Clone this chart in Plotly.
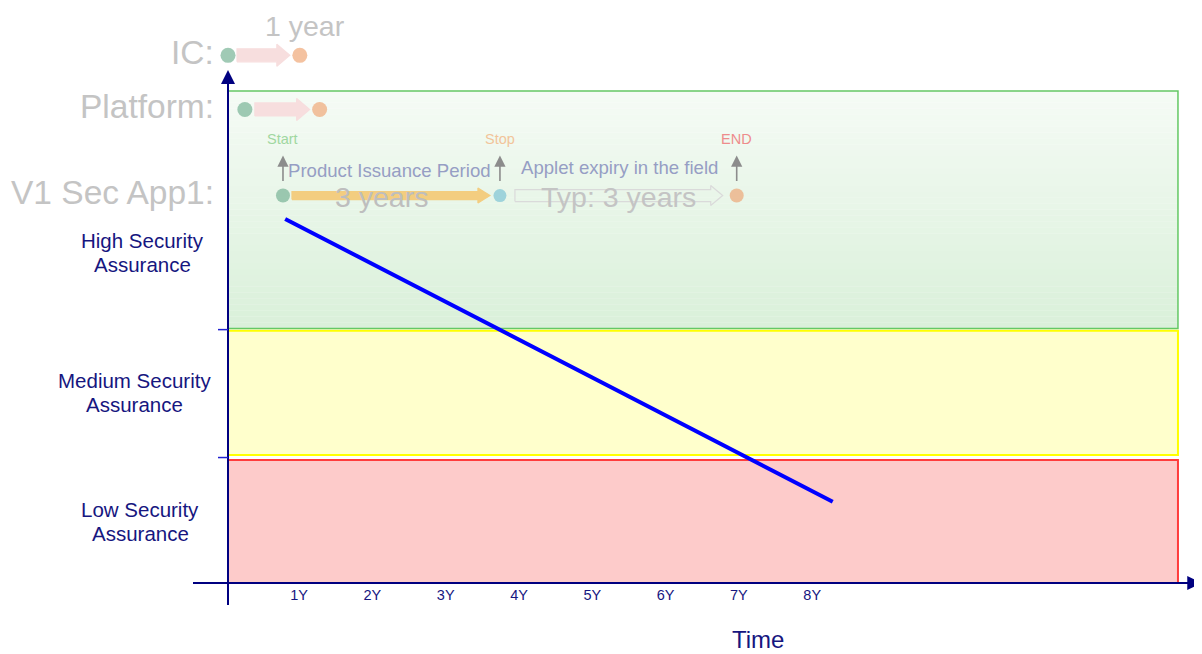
import plotly.graph_objects as go

# ---------------- data ----------------
years = [1, 2, 3, 4, 5, 6, 7, 8]
year_labels = ["1Y", "2Y", "3Y", "4Y", "5Y", "6Y", "7Y", "8Y"]

band_line1 = ["Low Security", "Medium Security", "High Security"]
band_line2 = ["Assurance", "Assurance", "Assurance"]
band_low = [0.0, 1.04, 2.07]
band_high = [1.0, 2.05, 4.0]
band_label_y = [0.5, 1.55, 2.69]
band_label_x = [-1.2, -1.28, -1.17]
band_fill = ["rgb(253,203,202)", "rgb(255,255,204)", None]
band_line = ["rgb(255,60,60)", "rgb(255,255,0)", "rgb(100,200,100)"]
band_right = 12.96

# security assurance decline of the applet
trend_x = [0.78, 8.25]
trend_y = [2.96, 0.66]

# lifecycle diagram (faded)
row_names = ["IC:", "Platform:", "V1 Sec App1:"]
row_y = [4.29, 3.85, 3.15]
ic_start, ic_end = 0.0, 0.98
plat_start, plat_end = 0.23, 1.25
app_start, app_stop, app_end = 0.75, 3.71, 6.94
milestone_names = ["Start", "Stop", "END"]
milestone_x = [app_start, app_stop, app_end]
milestone_colors = ["rgb(160,215,160)", "rgb(242,196,154)", "rgb(238,140,140)"]

# ---------------- scale (px per unit); page has an 8px body margin ----------------
PX_X = 73.3
PX_Y = 123.0
W, H = 1194, 646
OX, OY = 220, 575
X_RANGE = [-OX / PX_X, (W - OX) / PX_X]
Y_RANGE = [-(H - OY) / PX_Y, OY / PX_Y]

NAVY = "#000080"
TXT = "#16167f"
FONT = "Liberation Sans, Arial, sans-serif"


def dx(px):
    return px / PX_X


def dy(px):
    return px / PX_Y


def block_arrow(x0, x1, yc, body, head_h, head_len):
    xh = x1 - dx(head_len)
    b = dy(body) / 2
    h = dy(head_h) / 2
    xs = [x0, xh, xh, x1, xh, xh, x0, x0]
    ys = [yc - b, yc - b, yc - h, yc, yc + h, yc + b, yc + b, yc - b]
    return xs, ys


fig = go.Figure()
shapes = []

# green band gradient
n_strip = 40
lo, hi = band_low[2], band_high[2]
for i in range(n_strip):
    t = i / (n_strip - 1)
    r = round(245 + (218 - 245) * (1 - t))
    g = round(251 + (240 - 251) * (1 - t))
    b = round(245 + (218 - 245) * (1 - t))
    y0 = lo + (hi - lo) * i / n_strip
    y1 = lo + (hi - lo) * (i + 1) / n_strip
    shapes.append(dict(type="rect", xref="x", yref="y", x0=0, x1=band_right, y0=y0, y1=y1 + 0.002,
                       fillcolor=f"rgb({r},{g},{b})", line=dict(width=0), layer="below"))

for i in range(3):
    shapes.append(dict(type="rect", xref="x", yref="y", x0=0, x1=band_right,
                       y0=band_low[i], y1=band_high[i],
                       fillcolor=band_fill[i] if band_fill[i] else "rgba(0,0,0,0)",
                       line=dict(color=band_line[i], width=2 if i < 2 else 1.5), layer="below"))

# axes
shapes.append(dict(type="line", xref="x", yref="y", x0=dx(-35), x1=X_RANGE[1], y0=0, y1=0,
                   line=dict(color=NAVY, width=2)))
shapes.append(dict(type="line", xref="x", yref="y", x0=0, x1=0, y0=dy(-22), y1=dy(505),
                   line=dict(color=NAVY, width=2)))
for yb in [band_low[1] - 0.02, band_low[2] - 0.01]:
    shapes.append(dict(type="line", xref="x", yref="y", x0=dx(-10), x1=0, y0=yb, y1=yb,
                       line=dict(color="#2020d0", width=1.5)))

# lifecycle arrows
arrow_specs = [
    (ic_start + dx(9), ic_end - dx(10), row_y[0], 13, 22, 13, "rgb(247,222,222)", "rgb(247,222,222)"),
    (plat_start + dx(10), plat_end - dx(10), row_y[1], 13, 22, 13, "rgb(247,222,222)", "rgb(247,222,222)"),
    (app_start + dx(9), app_stop - dx(10), row_y[2], 8, 15, 12, "rgb(243,205,128)", "rgb(243,205,128)"),
    (app_stop + dx(15), app_end - dx(14), row_y[2], 12, 20, 12, "rgba(255,255,255,0)", "rgb(218,218,218)"),
]
for x0, x1, yc, body, hh, hl, fc, lc in arrow_specs:
    xs, ys = block_arrow(x0, x1, yc, body, hh, hl)
    fig.add_trace(go.Scatter(x=xs, y=ys, mode="lines", fill="toself", fillcolor=fc,
                             line=dict(color=lc, width=1.2), hoverinfo="skip", showlegend=False))

# dots
dot_x = [ic_start, ic_end, plat_start, plat_end, app_start, app_stop, app_end]
dot_y = [row_y[0], row_y[0], row_y[1], row_y[1], row_y[2], row_y[2], row_y[2]]
dot_c = ["rgb(120,180,150)", "rgb(240,168,120)", "rgb(120,180,150)", "rgb(240,168,120)",
         "rgb(120,180,150)", "rgb(125,196,212)", "rgb(236,168,120)"]
dot_s = [15, 15, 15, 15, 14, 13, 14]
fig.add_trace(go.Scatter(x=dot_x, y=dot_y, mode="markers",
                         marker=dict(size=dot_s, color=dot_c, line=dict(width=0)),
                         hoverinfo="skip", showlegend=False))

# trend line
fig.add_trace(go.Scatter(x=trend_x, y=trend_y, mode="lines",
                         line=dict(color="#0000ff", width=4), showlegend=False))

# x tick labels
fig.add_trace(go.Scatter(x=[v - 0.03 for v in years], y=[dy(-13)] * len(years), mode="text",
                         text=year_labels,
                         textfont=dict(family=FONT, size=14.5, color=TXT), hoverinfo="skip",
                         showlegend=False))

annotations = []
# band labels (two lines each, 24px apart)
for i in range(3):
    for txt, off in ((band_line1[i], 12), (band_line2[i], -12)):
        annotations.append(dict(x=band_label_x[i], y=band_label_y[i] + dy(off), xref="x", yref="y",
                                text=txt, showarrow=False,
                                font=dict(family=FONT, size=20.5, color=TXT), align="center"))
annotations.append(dict(x=7.23, y=dy(-56), xref="x", yref="y", text="Time", showarrow=False,
                        font=dict(family=FONT, size=24, color=TXT)))

# row labels
for name, yv in zip(row_names, row_y):
    annotations.append(dict(x=dx(-12), y=yv + dy(3), xref="x", yref="y", text=name, showarrow=False,
                            xanchor="right", font=dict(family=FONT, size=33.5, color="rgb(196,196,196)")))
annotations.append(dict(x=1.05, y=dy(557), xref="x", yref="y", text="1 year", showarrow=False,
                        font=dict(family=FONT, size=28.5, color="rgb(196,196,196)")))
annotations.append(dict(x=(app_start + app_stop) / 2 - 0.14, y=row_y[2] - dy(1), xref="x", yref="y",
                        text="3 years", showarrow=False,
                        font=dict(family=FONT, size=28.5, color="rgb(190,190,190)")))
annotations.append(dict(x=(app_stop + app_end) / 2, y=row_y[2] - dy(1), xref="x", yref="y",
                        text="Typ: 3 years", showarrow=False,
                        font=dict(family=FONT, size=28.5, color="rgb(196,196,196)")))
annotations.append(dict(x=(app_start + app_stop) / 2 - 0.03, y=row_y[2] + dy(25), xref="x", yref="y",
                        text="Product Issuance Period", showarrow=False,
                        font=dict(family=FONT, size=18.6, color="rgb(150,158,196)")))
annotations.append(dict(x=(app_stop + app_end) / 2 + 0.02, y=row_y[2] + dy(28), xref="x", yref="y",
                        text="Applet expiry in the field", showarrow=False,
                        font=dict(family=FONT, size=18.6, color="rgb(150,158,196)")))
for name, xv, col in zip(milestone_names, milestone_x, milestone_colors):
    annotations.append(dict(x=xv, y=row_y[2] + dy(57), xref="x", yref="y", text=name, showarrow=False,
                            font=dict(family=FONT, size=14.5, color=col)))
    annotations.append(dict(x=xv, y=row_y[2] + dy(40), xref="x", yref="y", ax=xv, ay=row_y[2] + dy(13),
                            axref="x", ayref="y", text="", showarrow=True, arrowhead=2, arrowsize=1.4,
                            arrowwidth=1.6, arrowcolor="rgb(140,140,140)"))

# axis arrows
annotations.append(dict(x=0, y=dy(513), xref="x", yref="y", ax=0, ay=dy(480), axref="x", ayref="y",
                        text="", showarrow=True, arrowhead=2, arrowsize=1.4, arrowwidth=2, arrowcolor=NAVY))
annotations.append(dict(x=X_RANGE[1] - 0.01, y=0, xref="x", yref="y", ax=X_RANGE[1] - dx(30), ay=0,
                        axref="x", ayref="y", text="", showarrow=True, arrowhead=2, arrowsize=1.4,
                        arrowwidth=2, arrowcolor=NAVY))

fig.update_layout(
    width=W, height=H,
    margin=dict(l=0, r=0, t=0, b=0),
    paper_bgcolor="white", plot_bgcolor="white",
    xaxis=dict(range=X_RANGE, visible=False, fixedrange=True),
    yaxis=dict(range=Y_RANGE, visible=False, fixedrange=True),
    shapes=shapes, annotations=annotations, showlegend=False,
)

fig.write_html("out.html")
